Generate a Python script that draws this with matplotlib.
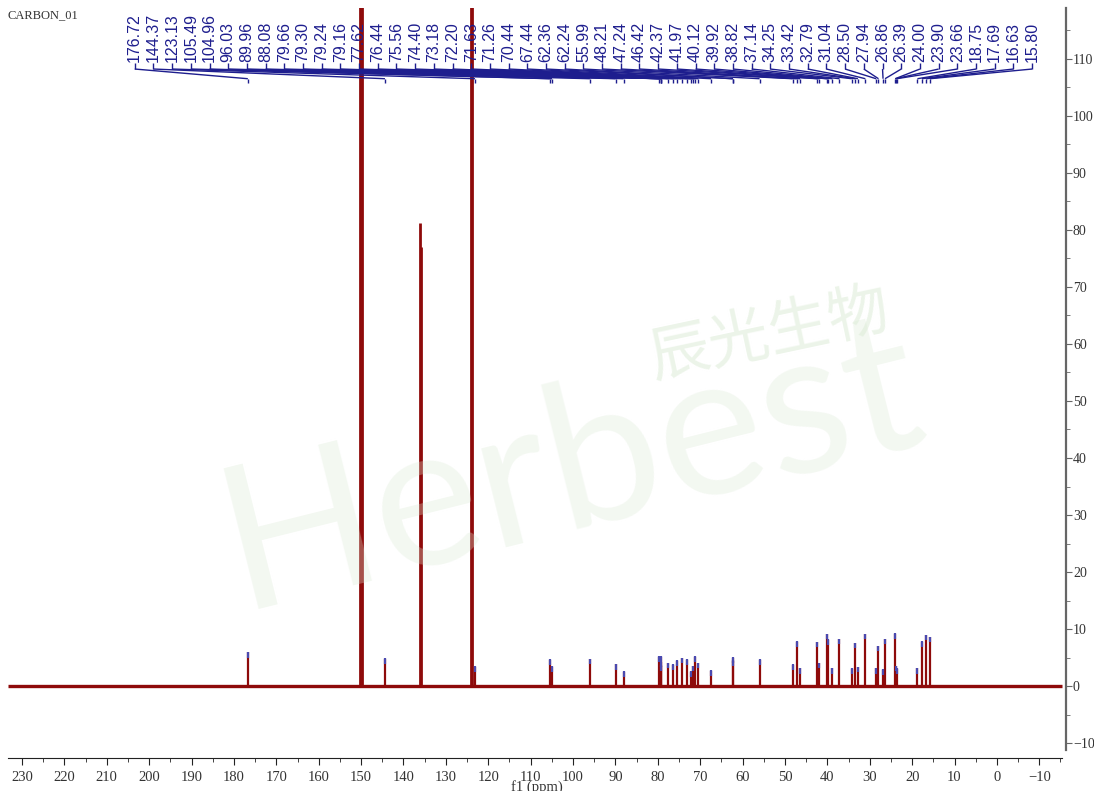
import numpy as np
import matplotlib
matplotlib.use('Agg')
import matplotlib.pyplot as plt
from matplotlib.collections import LineCollection
from matplotlib.ticker import MultipleLocator

# ---------------- data ----------------
peak_labels = ["176.72", "144.37", "123.13", "105.49", "104.96", "96.03", "89.96",
               "88.08", "79.66", "79.30", "79.24", "79.16", "77.62", "76.44",
               "75.56", "74.40", "73.18", "72.20", "71.63", "71.26", "70.44",
               "67.44", "62.36", "62.24", "55.99", "48.21", "47.24", "46.42",
               "42.37", "41.97", "40.12", "39.92", "38.82", "37.14", "34.25",
               "33.42", "32.79", "31.04", "28.50", "27.94", "26.86", "26.39",
               "24.00", "23.90", "23.66", "18.75", "17.69", "16.63", "15.80"]
peak_ppm = [float(s) for s in peak_labels]
peak_height = [5.9, 4.8, 3.4, 4.6, 3.4, 4.7, 3.8,
               2.5, 5.1, 5.1, 4.2, 3.6, 4.0, 3.7,
               4.4, 4.9, 4.6, 2.5, 3.5, 5.1, 4.0,
               2.7, 5.0, 4.4, 4.6, 3.7, 7.8, 3.1,
               7.7, 4.0, 9.1, 8.1, 3.1, 8.2, 3.0,
               7.5, 3.3, 9.1, 3.1, 7.0, 2.9, 8.2,
               9.2, 3.5, 3.0, 3.1, 7.8, 8.9, 8.6]

# solvent (pyridine-d5) lines; the 150 and 124 ppm lines run off scale
solvent_ppm = [150.15, 149.9, 136.0, 135.8, 124.0, 123.85]
solvent_height = [400.0, 400.0, 81.2, 77.0, 400.0, 400.0]

spectrum_range = [233.3, -15.4]
x_ticks = list(range(230, -11, -10))
y_ticks = list(range(-10, 111, 10))

red = '#8e0a0a'
blue = '#1e1e8e'

fig = plt.figure(figsize=(10.94, 7.91), dpi=100)
W, H = 1094, 791
ax = fig.add_axes([8 / W, (H - 750) / H, (1066 - 8) / W, (750 - 8) / H])
ax.set_xlim(233.3, -16.3)
ax.set_ylim(-11.2, 118.9)

# watermark
fig.text(572 / W, 1 - 468 / H, "Herbest", fontsize=145, family='Lato', weight='normal',
         color='#dbead5', alpha=0.32, rotation=14, ha='center', va='center', zorder=0)
fig.text(770 / W, 1 - 335 / H, "辰光生物", fontsize=44, family=['Noto Sans CJK SC', 'DejaVu Sans'],
         color='#d9ead3', alpha=0.5, rotation=12, ha='center', va='center', zorder=0)

# baseline
ax.plot(spectrum_range, [0, 0], color=red, lw=2.4, solid_capstyle='butt', zorder=3)
# solvent peaks
ax.vlines(solvent_ppm, 0, solvent_height, color=red, lw=2.0, zorder=3)
# sample peaks
ax.vlines(peak_ppm, 0, peak_height, color=red, lw=1.6, zorder=3)
# peak-pick markers
ph = np.array(peak_height)
ax.vlines(peak_ppm, ph - 0.9, ph + 0.1, color='#4a4ab0', lw=1.6, zorder=4)

# labels and leader lines
label_x = np.linspace(203.4, -8.3, len(peak_labels))
segs = []
for lx, p in zip(label_x, peak_ppm):
    segs.append([(lx, 109.3), (lx, 108.2)])
    segs.append([(lx, 108.2), (p, 106.5)])
    segs.append([(p, 106.5), (p, 105.8)])
ax.add_collection(LineCollection(segs, colors=blue, linewidths=1.0, zorder=5))
for lx, s in zip(label_x, peak_labels):
    ax.text(lx, 109.5, s, rotation=90, ha='center', va='bottom', fontsize=11.5,
            family='Liberation Sans', color=blue, zorder=5)

# axes styling
for sp in ['left', 'top']:
    ax.spines[sp].set_visible(False)
ax.spines['bottom'].set_position(('outward', 6))
ax.spines['bottom'].set_bounds(233.3, -15.4)
ax.spines['bottom'].set_color('#222222')
ax.spines['right'].set_color('#666666')
ax.spines['right'].set_linewidth(1.6)
ax.yaxis.tick_right()
ax.set_xticks(x_ticks)
ax.xaxis.set_minor_locator(MultipleLocator(5))
ax.set_yticks(y_ticks)
ax.yaxis.set_minor_locator(MultipleLocator(5))
ax.tick_params(axis='x', which='major', length=5, direction='out', labelsize=10.5,
               labelcolor='#333333', color='#222222', pad=4)
ax.tick_params(axis='x', which='minor', length=3, direction='out', color='#222222')
ax.tick_params(axis='y', which='major', length=4, direction='out', labelsize=10,
               labelcolor='#333333', color='#666666', pad=1)
ax.tick_params(axis='y', which='minor', length=3, direction='out', color='#666666')
for lab in ax.get_xticklabels() + ax.get_yticklabels():
    lab.set_family('Liberation Serif')
ax.set_xlabel("f1 (ppm)", family='Liberation Serif', fontsize=10.5, color='#333333', labelpad=-3)

fig.text(8 / W, 1 - 15 / H, "CARBON_01", family='Liberation Serif', fontsize=9,
         color='#333333', va='center', ha='left')

fig.savefig('out.png', dpi=100)
